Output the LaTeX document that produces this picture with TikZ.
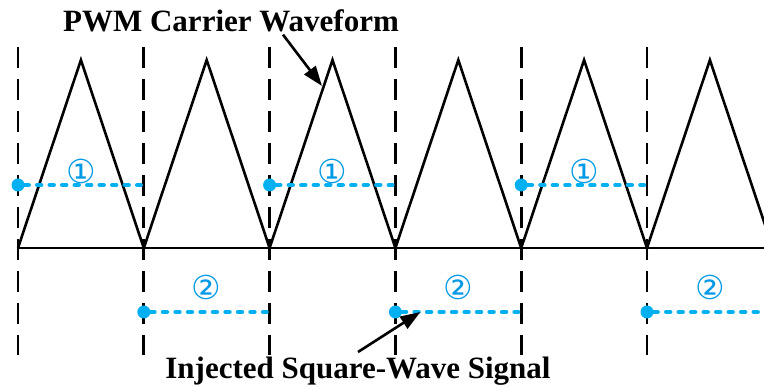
\documentclass[tikz,border=0pt]{standalone}
\usepackage{fontspec}
\setmainfont{Liberation Serif}
\newfontfamily\symfont{DejaVu Sans}
\usetikzlibrary{arrows.meta,calc}
\definecolor{sigblue}{HTML}{00B0F0}
\definecolor{numblue}{HTML}{0099E6}

\begin{document}
\begin{tikzpicture}[x=1pt,y=-1pt,
  carrier/.style={line width=2.6pt,line join=miter},
  axis/.style={line width=2.8pt},
  divider/.style={line width=2.8pt,dash pattern=on 21pt off 11pt},
  sqwave/.style={sigblue,line width=4.4pt,line cap=round,dash pattern=on 4pt off 8.5pt},
  sqdot/.style={circle,fill=sigblue,inner sep=0pt,minimum size=13pt},
  numlbl/.style={font=\symfont\fontsize{33}{33}\selectfont,text=numblue,inner sep=0pt},
  title/.style={font=\bfseries\fontsize{31}{31}\selectfont,inner sep=0pt},
  arrow/.style={-{Triangle[length=20pt,width=14pt]},line width=2.6pt}
]
\useasboundingbox (0,0) rectangle (764,387);

% dashed switching instants
\foreach \k in {0,...,5}
  \draw[divider] ({18+125.8*\k},47) -- ({18+125.8*\k},355);

% zero line and triangular carrier
\draw[axis] (18,248) -- (764,248);
\begin{scope}
\clip (0,0) rectangle (764,387);
\draw[carrier] (18,248)
  \foreach \k in {0,...,5} { -- ({80.9+125.8*\k},60) -- ({143.8+125.8*\k},248) };
\end{scope}

% square-wave levels
\foreach \k in {0,2,4} {
  \node[sqdot] (lvlA\k) at ({18+125.8*\k},185) {};
  \coordinate (endA\k) at ({18+125.8*(\k+1)-3},185);
  \draw[sqwave] (lvlA\k) -- (endA\k);
  \node[numlbl] (numA\k) at ({80.9+125.8*\k},171) {①};
}
\foreach \k in {1,3,5} {
  \node[sqdot] (lvlB\k) at ({18+125.8*\k},312) {};
  \coordinate (endB\k) at ({min(18+125.8*(\k+1)-3,764)},312);
  \draw[sqwave] (lvlB\k) -- (endB\k);
  \node[numlbl] (numB\k) at ({80.9+125.8*\k},287) {②};
}

% labels
\node[title,anchor=base] (carTitle) at (231,32) {PWM Carrier Waveform};
\node[title,anchor=base] (sqTitle)  at (358,379) {Injected Square-Wave Signal};

\coordinate (carTail) at ($(carTitle.south)+(52,2)$);
\coordinate (carTip)  at (322,86);
\draw[arrow] (carTail) -- (carTip);

\coordinate (sqTail) at (358,352);
\coordinate (sqTip)  at ($(lvlB3)+(25,0)$);
\draw[arrow] (sqTail) -- (sqTip);
\end{tikzpicture}
\end{document}
